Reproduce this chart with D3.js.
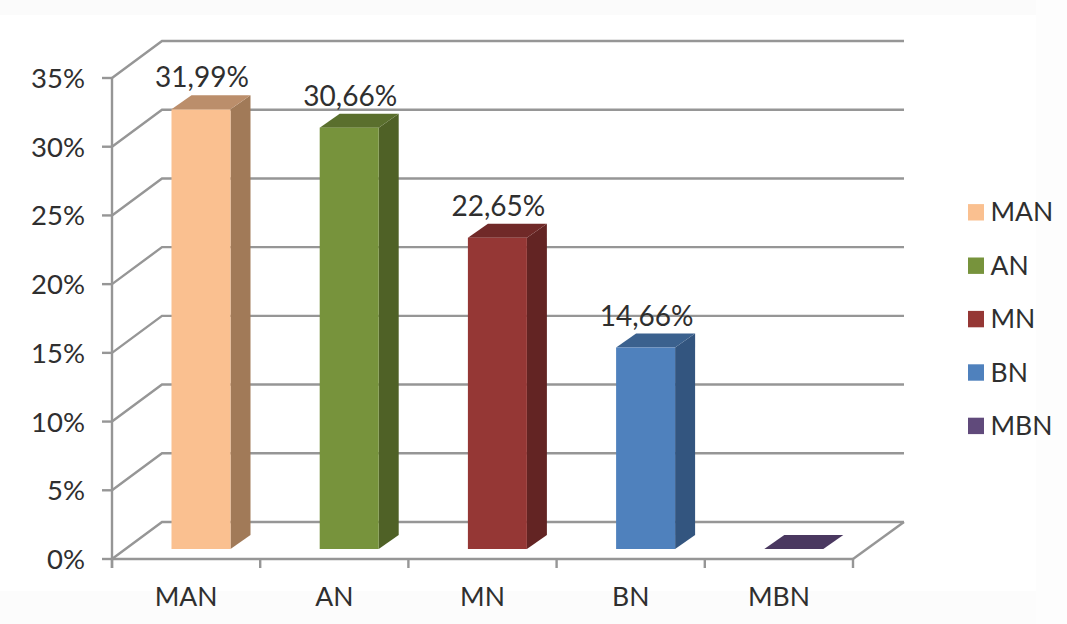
<!DOCTYPE html>
<html>
<head>
<meta charset="utf-8">
<script src="https://cdn.jsdelivr.net/npm/d3@7/dist/d3.min.js"></script>
<style>
html,body{margin:0;padding:0;background:#fff;}
svg{display:block;}
text{font-family:Lato,"Open Sans",sans-serif;fill:#2f2f2f;}
</style>
</head>
<body>
<svg id="chart" width="1067" height="624"></svg>
<script>
// Nivel de desempeno: participacion de cada categoria
const categories = ["MAN", "AN", "MN", "BN", "MBN"];
const values = [31.99, 30.66, 22.65, 14.66, 0];
const valueLabels = ["31,99%", "30,66%", "22,65%", "14,66%", ""];
const yTicks = [0, 5, 10, 15, 20, 25, 30, 35];
const frontColors = ["#FAC090", "#77933C", "#953735", "#4F81BD", "#604A7B"];
const sideColors = ["#A17A58", "#4F6126", "#632423", "#33557F", "#3E2F52"];
const topColors = ["#BB8E6B", "#5A6F2D", "#702928", "#3B618E", "#4A3860"];

const svg = d3.select("#chart");
const W = 1067, H = 624;

// Box projection: depth of the floor and of the bars
const wallDx = 50, wallDy = -37;
const barDx = 20, barDy = -14;
const barLift = 10;
const barW = 59;

const x = d3.scaleBand().domain(categories).range([112, 853]);
const y = d3.scaleLinear().domain([0, 35]).range([559, 78]);
const gray = "#969696";
const strokeW = 2.4;

// Page tint along the outer edges
svg.append("rect").attr("width", W).attr("height", H).attr("fill", "#fff");
svg.append("rect").attr("width", W).attr("height", 15).attr("fill", "#fbfbfb");
svg.append("rect").attr("y", 591).attr("width", W).attr("height", 33).attr("fill", "#fcfcfc");
svg.append("rect").attr("x", 1036).attr("width", 31).attr("height", H).attr("fill", "#fdfdfd");

// Back wall gridlines and their diagonals on the side wall
const grid = svg.append("g").attr("fill", "none").attr("stroke", gray).attr("stroke-width", strokeW);
yTicks.forEach(t => {
  const yy = y(t);
  grid.append("path").attr("d", d3.line()([
    [x.range()[0], yy],
    [x.range()[0] + wallDx, yy + wallDy],
    [x.range()[1] + wallDx + 1, yy + wallDy]
  ]));
});
// Floor edge on the right
grid.append("path").attr("d", d3.line()([
  [x.range()[1], y(0)],
  [x.range()[1] + wallDx + 1, y(0) + wallDy]
]));

// Value axis
const yAxis = svg.append("g").attr("fill", "none").attr("stroke", gray).attr("stroke-width", strokeW);
yAxis.append("line").attr("x1", 112).attr("x2", 112).attr("y1", y(35)).attr("y2", y(0) + 9);
yTicks.forEach(t => {
  yAxis.append("line").attr("x1", 102).attr("x2", 112).attr("y1", y(t)).attr("y2", y(t));
});
svg.append("g").selectAll("text").data(yTicks).join("text")
  .attr("x", 85).attr("y", d => y(d) + 10).attr("text-anchor", "end")
  .attr("font-size", 27.5).text(d => d + "%");

// Category axis
const xAxis = svg.append("g").attr("fill", "none").attr("stroke", gray).attr("stroke-width", strokeW);
xAxis.append("line").attr("x1", 112).attr("x2", 853).attr("y1", y(0)).attr("y2", y(0));
categories.forEach(c => {
  xAxis.append("line").attr("x1", x(c)).attr("x2", x(c)).attr("y1", y(0)).attr("y2", y(0) + 9);
});
xAxis.append("line").attr("x1", 853).attr("x2", 853).attr("y1", y(0)).attr("y2", y(0) + 9);
svg.append("g").selectAll("text").data(categories).join("text")
  .attr("x", c => x(c) + x.bandwidth() / 2).attr("y", 606).attr("text-anchor", "middle")
  .attr("font-size", 26.5).text(c => c);

// Bars: front, side and top faces
const bars = svg.append("g");
categories.forEach((c, i) => {
  const x0 = x(c) + 59.5;
  const x1 = x0 + barW;
  const base = y(0) - barLift;
  const top = y(values[i]) - barLift;
  const g = bars.append("g");
  g.append("path").attr("fill", sideColors[i]).attr("d", d3.line()([
    [x1, top], [x1 + barDx, top + barDy], [x1 + barDx, base + barDy], [x1, base]
  ]) + "Z");
  g.append("path").attr("fill", topColors[i]).attr("d", d3.line()([
    [x0, top], [x0 + barDx, top + barDy], [x1 + barDx, top + barDy], [x1, top]
  ]) + "Z");
  if (values[i] > 0) {
    g.append("rect").attr("x", x0).attr("y", top).attr("width", barW).attr("height", base - top).attr("fill", frontColors[i]);
  }
  if (valueLabels[i]) {
    svg.append("text").attr("x", x0 + barW / 2 + 1).attr("y", top - 22)
      .attr("text-anchor", "middle").attr("font-size", 28).text(valueLabels[i]);
  }
});

// Legend
const legend = svg.append("g");
categories.forEach((c, i) => {
  const ly = 212.3 + i * 53.4;
  legend.append("rect").attr("x", 968).attr("y", ly - 8.2).attr("width", 16).attr("height", 16.4).attr("fill", frontColors[i]);
  legend.append("text").attr("x", 990.5).attr("y", ly + 9).attr("font-size", 26.5).text(c);
});
</script>
</body>
</html>
